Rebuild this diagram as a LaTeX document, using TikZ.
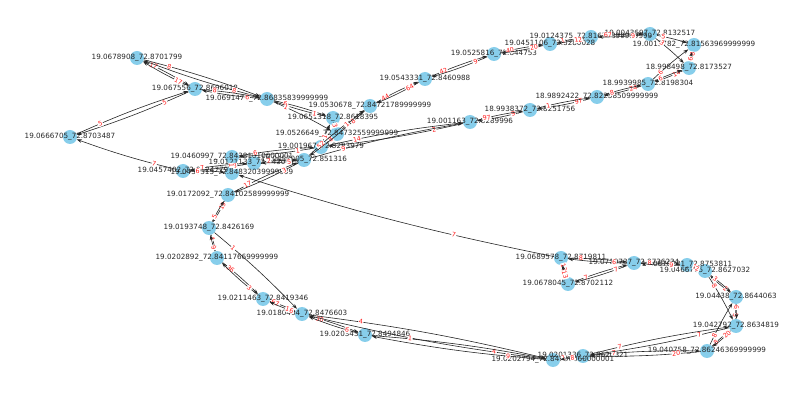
\documentclass[tikz,border=0pt]{standalone}
\usepackage{fontspec}
\setmainfont{DejaVu Sans}
\usetikzlibrary{arrows.meta}
\definecolor{skyblue}{HTML}{87CEEB}

\begin{document}
\begin{tikzpicture}[x=1pt, y=-1pt,
    vtx/.style={circle, fill=skyblue, minimum size=14pt, inner sep=0pt},
    nombre/.style={font=\fontsize{7.2}{8}\selectfont, inner sep=0pt, text=black!85},
    arista/.style={-{Stealth[length=5pt,width=3.5pt]}, line width=0.6pt, black!85, bend left=3},
    peso/.style={font=\fontsize{6.3}{7}\selectfont, text=red!90!white, fill=white, inner sep=0.6pt, sloped, pos=0.2}]
            \useasboundingbox (0,0) rectangle (806,395);
            % Nodos
            \node[vtx] (n1) at (137,58) {};
            \node[vtx] (n2) at (195,89) {};
            \node[vtx] (n3) at (267,99) {};
            \node[vtx] (n4) at (70,137) {};
            \node[vtx] (n5) at (333,118) {};
            \node[vtx] (n6) at (370,106) {};
            \node[vtx] (n7) at (425,79) {};
            \node[vtx] (n8) at (494,54) {};
            \node[vtx] (n9) at (550,44) {};
            \node[vtx] (n10) at (591,37) {};
            \node[vtx] (n11) at (650,34) {};
            \node[vtx] (n12) at (694,45) {};
            \node[vtx] (n13) at (689,68) {};
            \node[vtx] (n14) at (648,84) {};
            \node[vtx] (n15) at (597,97) {};
            \node[vtx] (n16) at (530,110) {};
            \node[vtx] (n17) at (470,122) {};
            \node[vtx] (n18) at (337,134) {};
            \node[vtx] (n19) at (321,147) {};
            \node[vtx] (n20) at (304,160) {};
            \node[vtx] (n21) at (232,157) {};
            \node[vtx] (n22) at (254,163) {};
            \node[vtx] (n23) at (183,171) {};
            \node[vtx] (n24) at (232,173) {};
            \node[vtx] (n25) at (228,195) {};
            \node[vtx] (n26) at (209,228) {};
            \node[vtx] (n27) at (217,258) {};
            \node[vtx] (n28) at (263,299) {};
            \node[vtx] (n29) at (302,314) {};
            \node[vtx] (n30) at (365,335) {};
            \node[vtx] (n31) at (553,360) {};
            \node[vtx] (n32) at (583,356) {};
            \node[vtx] (n33) at (707,351) {};
            \node[vtx] (n34) at (736,326) {};
            \node[vtx] (n35) at (736,297) {};
            \node[vtx] (n36) at (705,271) {};
            \node[vtx] (n37) at (687,265) {};
            \node[vtx] (n38) at (634,263) {};
            \node[vtx] (n39) at (561,258) {};
            \node[vtx] (n40) at (568,284) {};

            % Nombres
            \node[nombre] (l1) at (n1) {19.0678908\_72.8701799};
            \node[nombre] (l2) at (n2) {19.067556\_72.8696018};
            \node[nombre] (l3) at (n3) {19.0691476\_72.86835839999999};
            \node[nombre] (l4) at (n4) {19.0666705\_72.8703487};
            \node[nombre] (l5) at (n5) {19.0651318\_72.8618395};
            \node[nombre] (l6) at (n6) {19.0530678\_72.84721789999999};
            \node[nombre] (l7) at (n7) {19.0543331\_72.8460988};
            \node[nombre] (l8) at (n8) {19.0525816\_72.844753};
            \node[nombre] (l9) at (n9) {19.0451106\_72.8280028};
            \node[nombre] (l10) at (n10) {19.0124375\_72.81670899999999};
            \node[nombre] (l11) at (n11) {19.0043697\_72.8132517};
            \node[nombre] (l12) at (n12) {19.0013782\_72.81563969999999};
            \node[nombre] (l13) at (n13) {18.998498\_72.8173527};
            \node[nombre] (l14) at (n14) {18.9939985\_72.8198304};
            \node[nombre] (l15) at (n15) {18.9892422\_72.82238509999999};
            \node[nombre] (l16) at (n16) {18.9938372\_72.8251756};
            \node[nombre] (l17) at (n17) {19.001163\_72.8289996};
            \node[nombre] (l18) at (n18) {19.0526649\_72.84732559999999};
            \node[nombre] (l19) at (n19) {19.001967\_72.8293979};
            \node[nombre] (l20) at (n20) {19.0457005\_72.851316};
            \node[nombre] (l21) at (n21) {19.0460997\_72.84381010000001};
            \node[nombre] (l22) at (n22) {19.0121133\_72.8430715};
            \node[nombre] (l23) at (n23) {19.0457402\_72.8424779};
            \node[nombre] (l24) at (n24) {19.0458315\_72.84832039999999};
            \node[nombre] (l25) at (n25) {19.0172092\_72.84102589999999};
            \node[nombre] (l26) at (n26) {19.0193748\_72.8426169};
            \node[nombre] (l27) at (n27) {19.0202892\_72.84117669999999};
            \node[nombre] (l28) at (n28) {19.0211463\_72.8419346};
            \node[nombre] (l29) at (n29) {19.0180404\_72.8476603};
            \node[nombre] (l30) at (n30) {19.0203431\_72.8494846};
            \node[nombre] (l31) at (n31) {19.0202794\_72.84956060000001};
            \node[nombre] (l32) at (n32) {19.0201336\_72.8620821};
            \node[nombre] (l33) at (n33) {19.040758\_72.86246369999999};
            \node[nombre] (l34) at (n34) {19.042792\_72.8634819};
            \node[nombre] (l35) at (n35) {19.04438\_72.8644063};
            \node[nombre] (l36) at (n36) {19.0466765\_72.8627032};
            \node[nombre] (l37) at (n37) {19.0676231\_72.8753811};
            \node[nombre] (l38) at (n38) {19.0710737\_72.8736234};
            \node[nombre] (l39) at (n39) {19.0689578\_72.8719811};
            \node[nombre] (l40) at (n40) {19.0678045\_72.8702112};

            % Aristas
            \draw[arista] (n1) to node[peso] {17} (n2);
            \draw[arista] (n2) to node[peso] {17} (n1);
            \draw[arista] (n1) to node[peso] {8} (n3);
            \draw[arista] (n3) to node[peso] {8} (n1);
            \draw[arista] (n3) to node[peso] {6} (n2);
            \draw[arista] (n2) to node[peso] {8} (n3);
            \draw[arista] (n2) to node[peso] {5} (n4);
            \draw[arista] (n4) to node[peso] {5} (n2);
            \draw[arista] (n23) to node[peso] {7} (n4);
            \draw[arista] (n3) to node[peso] {6} (n5);
            \draw[arista] (n5) to node[peso] {1} (n3);
            \draw[arista] (n3) to node[peso] {1} (n18);
            \draw[arista] (n5) to node[peso] {3} (n18);
            \draw[arista] (n18) to node[peso] {8} (n19);
            \draw[arista] (n19) to node[peso] {1} (n5);
            \draw[arista] (n20) to node[peso] {52} (n6);
            \draw[arista] (n6) to node[peso] {8} (n20);
            \draw[arista] (n18) to node[peso] {1} (n6);
            \draw[arista] (n6) to node[peso] {44} (n7);
            \draw[arista] (n7) to node[peso] {64} (n6);
            \draw[arista] (n7) to node[peso] {42} (n8);
            \draw[arista] (n8) to node[peso] {9} (n7);
            \draw[arista] (n8) to node[peso] {40} (n9);
            \draw[arista] (n9) to node[peso] {20} (n8);
            \draw[arista] (n9) to node[peso] {1} (n10);
            \draw[arista] (n10) to node[peso] {12} (n9);
            \draw[arista] (n10) to node[peso] {67} (n11);
            \draw[arista] (n11) to node[peso] {9} (n10);
            \draw[arista] (n11) to node[peso] {5} (n12);
            \draw[arista] (n12) to node[peso] {8} (n13);
            \draw[arista] (n13) to node[peso] {6} (n12);
            \draw[arista] (n11) to node[peso] {3} (n13);
            \draw[arista] (n14) to node[peso] {6} (n12);
            \draw[arista] (n13) to node[peso] {14} (n14);
            \draw[arista] (n14) to node[peso] {6} (n13);
            \draw[arista] (n14) to node[peso] {24} (n15);
            \draw[arista] (n15) to node[peso] {8} (n14);
            \draw[arista] (n15) to node[peso] {97} (n16);
            \draw[arista] (n16) to node[peso] {1} (n15);
            \draw[arista] (n16) to node[peso] {9} (n17);
            \draw[arista] (n17) to node[peso] {97} (n16);
            \draw[arista] (n17) to node[peso] {2} (n19);
            \draw[arista] (n19) to node[peso] {14} (n17);
            \draw[arista] (n20) to node[peso] {9} (n17);
            \draw[arista] (n21) to node[peso] {6} (n19);
            \draw[arista] (n19) to node[peso] {1} (n21);
            \draw[arista] (n22) to node[peso] {2} (n20);
            \draw[arista] (n20) to node[peso] {5} (n22);
            \draw[arista] (n23) to node[peso] {7} (n22);
            \draw[arista] (n22) to node[peso] {3} (n23);
            \draw[arista] (n24) to node[peso] {1} (n21);
            \draw[arista] (n23) to node[peso] {6} (n24);
            \draw[arista] (n25) to node[peso] {17} (n20);
            \draw[arista] (n20) to node[peso] {3} (n25);
            \draw[arista] (n39) to node[peso, pos=0.3] {7} (n24);
            \draw[arista] (n25) to node[peso] {19} (n26);
            \draw[arista] (n26) to node[peso] {5} (n25);
            \draw[arista] (n26) to node[peso] {4} (n27);
            \draw[arista] (n27) to node[peso] {9} (n26);
            \draw[arista] (n26) to node[peso] {1} (n29);
            \draw[arista] (n27) to node[peso] {36} (n28);
            \draw[arista] (n28) to node[peso] {3} (n27);
            \draw[arista] (n28) to node[peso] {67} (n29);
            \draw[arista] (n29) to node[peso] {16} (n28);
            \draw[arista] (n29) to node[peso] {30} (n30);
            \draw[arista] (n30) to node[peso] {6} (n29);
            \draw[arista] (n29) to node[peso] {4} (n31);
            \draw[arista] (n31) to node[peso] {4} (n29);
            \draw[arista] (n30) to node[peso] {1} (n31);
            \draw[arista] (n31) to node[peso] {9} (n30);
            \draw[arista] (n31) to node[peso] {1} (n32);
            \draw[arista] (n32) to node[peso] {8} (n31);
            \draw[arista] (n32) to node[peso] {7} (n33);
            \draw[arista] (n33) to node[peso] {20} (n32);
            \draw[arista] (n34) to node[peso] {7} (n32);
            \draw[arista] (n32) to node[peso] {7} (n34);
            \draw[arista] (n33) to node[peso] {8} (n34);
            \draw[arista] (n34) to node[peso] {20} (n33);
            \draw[arista] (n34) to node[peso] {5} (n35);
            \draw[arista] (n35) to node[peso] {6} (n34);
            \draw[arista] (n35) to node[peso] {2} (n36);
            \draw[arista] (n36) to node[peso] {3} (n35);
            \draw[arista] (n36) to node[peso] {8} (n34);
            \draw[arista] (n33) to node[peso] {8} (n35);
            \draw[arista] (n37) to node[peso] {1} (n36);
            \draw[arista] (n36) to node[peso] {2} (n37);
            \draw[arista] (n38) to node[peso] {8} (n37);
            \draw[arista] (n37) to node[peso] {9} (n38);
            \draw[arista] (n39) to node[peso] {8} (n38);
            \draw[arista] (n38) to node[peso] {6} (n39);
            \draw[arista] (n39) to node[peso] {13} (n40);
            \draw[arista] (n40) to node[peso] {13} (n39);
            \draw[arista] (n40) to node[peso] {7} (n38);
            \draw[arista] (n38) to node[peso] {7} (n40);
          \end{tikzpicture}
\end{document}
